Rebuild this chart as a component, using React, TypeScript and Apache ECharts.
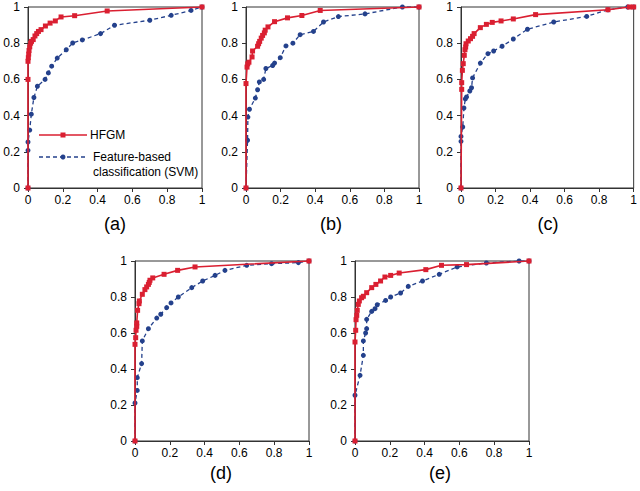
import React, { useEffect, useRef } from "react";
import * as echarts from "echarts";

const panelLabels = ["(a)", "(b)", "(c)", "(d)", "(e)"];
const tickValues = [0, 0.2, 0.4, 0.6, 0.8, 1];

const hfgmA: number[][] = [[0,0],[0,0.6],[0,0.7],[0.002,0.72],[0.004,0.74],[0.006,0.76],[0.01,0.78],[0.015,0.8],[0.02,0.81],[0.03,0.82],[0.04,0.84],[0.05,0.853],[0.06,0.865],[0.075,0.875],[0.1,0.895],[0.127,0.911],[0.157,0.923],[0.19,0.945],[0.268,0.952],[0.455,0.978],[1,1]];
const svmA: number[][] = [[0,0],[0,0.208],[0,0.254],[0.01,0.32],[0.019,0.408],[0.034,0.5],[0.054,0.562],[0.098,0.6],[0.117,0.636],[0.136,0.673],[0.168,0.718],[0.22,0.764],[0.257,0.801],[0.312,0.818],[0.417,0.853],[0.497,0.899],[0.7,0.927],[0.823,0.954],[0.937,0.981],[1,1]];

const hfgmB: number[][] = [[0,0],[0,0.577],[0.006,0.668],[0.01,0.686],[0.017,0.695],[0.035,0.724],[0.038,0.757],[0.067,0.783],[0.073,0.797],[0.079,0.81],[0.088,0.828],[0.096,0.843],[0.106,0.857],[0.111,0.872],[0.127,0.89],[0.165,0.919],[0.24,0.94],[0.323,0.953],[0.429,0.981],[1,1]];
const svmB: number[][] = [[0,0],[0.009,0.264],[0.011,0.392],[0.02,0.435],[0.054,0.497],[0.067,0.543],[0.077,0.586],[0.102,0.6],[0.115,0.66],[0.154,0.677],[0.165,0.69],[0.198,0.72],[0.231,0.785],[0.271,0.8],[0.313,0.847],[0.39,0.865],[0.448,0.917],[0.534,0.947],[0.688,0.962],[0.904,1],[1,1]];

const hfgmC: number[][] = [[0,0],[0.004,0.545],[0.004,0.582],[0.008,0.65],[0.013,0.687],[0.019,0.733],[0.023,0.764],[0.027,0.779],[0.029,0.797],[0.042,0.812],[0.055,0.825],[0.067,0.838],[0.076,0.853],[0.112,0.886],[0.147,0.904],[0.181,0.915],[0.232,0.923],[0.303,0.934],[0.432,0.958],[0.851,0.985],[0.975,1],[1,1]];
const svmC: number[][] = [[0,0],[0,0.258],[0,0.285],[0.01,0.337],[0.017,0.442],[0.025,0.492],[0.032,0.503],[0.051,0.536],[0.061,0.554],[0.067,0.608],[0.112,0.69],[0.156,0.742],[0.189,0.757],[0.238,0.783],[0.303,0.823],[0.385,0.877],[0.537,0.917],[0.728,0.948],[0.851,0.985],[0.966,1],[1,1]];

const hfgmD: number[][] = [[0,0],[0,0.537],[0.004,0.574],[0.006,0.615],[0.01,0.637],[0.01,0.656],[0.015,0.726],[0.023,0.763],[0.025,0.778],[0.042,0.815],[0.057,0.841],[0.067,0.856],[0.077,0.87],[0.082,0.881],[0.086,0.893],[0.102,0.906],[0.167,0.926],[0.245,0.948],[0.345,0.967],[1,1]];
const svmD: number[][] = [[0,0],[0,0.211],[0.013,0.281],[0.013,0.352],[0.038,0.43],[0.042,0.556],[0.077,0.624],[0.125,0.683],[0.148,0.704],[0.182,0.741],[0.207,0.767],[0.249,0.8],[0.326,0.852],[0.389,0.889],[0.46,0.92],[0.517,0.948],[0.642,0.976],[0.785,0.985],[0.939,0.991],[1,1]];

const hfgmE: number[][] = [[0,0],[0,0.55],[0.004,0.615],[0.006,0.674],[0.01,0.698],[0.013,0.726],[0.019,0.759],[0.025,0.778],[0.038,0.796],[0.048,0.804],[0.067,0.824],[0.096,0.852],[0.12,0.87],[0.147,0.889],[0.172,0.911],[0.205,0.92],[0.254,0.933],[0.407,0.952],[0.497,0.976],[0.641,0.98],[1,1]];
const svmE: number[][] = [[0,0],[0,0.254],[0.029,0.365],[0.048,0.476],[0.048,0.556],[0.061,0.6],[0.067,0.624],[0.067,0.676],[0.096,0.72],[0.115,0.735],[0.128,0.757],[0.176,0.781],[0.205,0.8],[0.262,0.822],[0.306,0.859],[0.388,0.889],[0.484,0.926],[0.587,0.967],[0.755,0.989],[0.943,1],[1,1]];

const hfgmAll = [hfgmA, hfgmB, hfgmC, hfgmD, hfgmE];
const svmAll = [svmA, svmB, svmC, svmD, svmE];

const RED = "#DA1F31";
const BLUE = "#24418C";
const AXIS = "#333333";
const FONT = "Liberation Sans, Arial, sans-serif";

const grids = [
  { left: 28, top: 7, width: 174, height: 181 },
  { left: 246, top: 7, width: 173, height: 181 },
  { left: 461, top: 7, width: 175, height: 181 },
  { left: 135, top: 261, width: 174, height: 180 },
  { left: 355, top: 261, width: 174, height: 180 },
];

export default function App() {
  const ref = useRef<HTMLDivElement>(null);
  useEffect(() => {
    if (!ref.current) return;
    const chart = echarts.init(ref.current, undefined, { renderer: "svg" });
    const axisCommon = {
      type: "value" as const,
      min: tickValues[0],
      max: tickValues[tickValues.length - 1],
      interval: 0.2,
      axisLine: { show: true, onZero: false, lineStyle: { color: AXIS, width: 1 } },
      axisTick: { show: true, inside: false, length: 4, lineStyle: { color: AXIS } },
      splitLine: { show: false },
      axisLabel: { color: "#000", fontSize: 12, fontFamily: FONT },
    };
    const xAxis = grids.map((_, i) => ({ ...axisCommon, gridIndex: i, axisLabel: { ...axisCommon.axisLabel, margin: 6 } }));
    const yAxis = grids.map((_, i) => ({ ...axisCommon, gridIndex: i, axisLabel: { ...axisCommon.axisLabel, margin: 8 } }));
    const series: any[] = [];
    grids.forEach((_, i) => {
      series.push({
        type: "line",
        xAxisIndex: i,
        yAxisIndex: i,
        data: svmAll[i],
        symbol: "circle",
        symbolSize: 5,
        lineStyle: { color: BLUE, width: 1.3, type: [4, 3] },
        itemStyle: { color: BLUE },
        z: 2,
      });
      series.push({
        type: "line",
        xAxisIndex: i,
        yAxisIndex: i,
        data: hfgmAll[i],
        symbol: "rect",
        symbolSize: 5,
        lineStyle: { color: RED, width: 1.6 },
        itemStyle: { color: RED },
        z: 3,
      });
    });
    const labelPos = [
      [115, 224],
      [331, 224],
      [548, 224],
      [221, 473],
      [440, 473],
    ];
    const graphic: any[] = panelLabels.map((t, i) => ({
      type: "text",
      x: labelPos[i][0],
      y: labelPos[i][1],
      style: { text: t, fontSize: 18, fontFamily: FONT, fill: "#000", align: "center", verticalAlign: "middle" },
    }));
    graphic.push(
      { type: "line", shape: { x1: 39, y1: 135, x2: 87, y2: 135 }, style: { stroke: RED, lineWidth: 1.6 } },
      { type: "rect", shape: { x: 60.5, y: 132.5, width: 5, height: 5 }, style: { fill: RED } },
      { type: "text", x: 90, y: 135, style: { text: "HFGM", fontSize: 12, fontFamily: FONT, fill: "#000", verticalAlign: "middle" } },
      { type: "line", shape: { x1: 39, y1: 157, x2: 87, y2: 157 }, style: { stroke: BLUE, lineWidth: 1.3, lineDash: [4, 3] } },
      { type: "circle", shape: { cx: 63, cy: 157, r: 2.5 }, style: { fill: BLUE } },
      { type: "text", x: 93, y: 157, style: { text: "Feature-based", fontSize: 12, fontFamily: FONT, fill: "#000", verticalAlign: "middle" } },
      { type: "text", x: 93, y: 172, style: { text: "classification (SVM)", fontSize: 12, fontFamily: FONT, fill: "#000", verticalAlign: "middle" } }
    );
    chart.setOption({
      animation: false,
      backgroundColor: "#fff",
      grid: grids.map((g) => ({ ...g, show: true, borderColor: AXIS, borderWidth: 1, backgroundColor: "transparent" })),
      xAxis,
      yAxis,
      series,
      graphic,
    });
    return () => chart.dispose();
  }, []);
  return <div ref={ref} style={{ position: "fixed", left: 0, top: 0, width: 640, height: 491 }} />;
}
